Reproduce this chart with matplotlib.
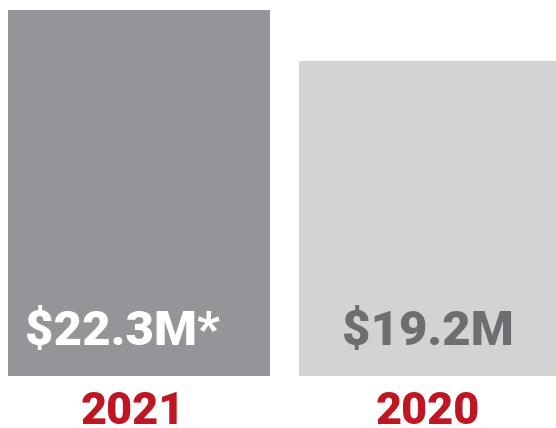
import matplotlib
matplotlib.use("Agg")
import matplotlib.pyplot as plt

years = ["2021", "2020"]
values = [22.3, 19.2]
value_labels = ["$22.3M*", "$19.2M"]
bar_colors = ["#939598", "#d1d3d4"]
label_colors = ["#ffffff", "#6d6e71"]
year_color = "#be1622"

W, H = 556, 428
fig = plt.figure(figsize=(W / 100, H / 100), dpi=100)
base_px = 375.5
top_px = 10
ax = fig.add_axes([0, (H - base_px) / H, 1, (base_px - top_px) / H])
ax.set_ylim(0, max(values))
unit = 291
c0 = 139
ax.set_xlim(-c0 / unit, (W - c0) / unit)
ax.axis("off")

x = list(range(len(years)))
ax.bar(x, values, width=262 / unit, color=bar_colors, clip_on=True)

val_dx = [-17, -2]
year_dx = [-6, -2]
for i in x:
    ax.annotate(value_labels[i], xy=(i, 0), xytext=(val_dx[i], 30.5),
                textcoords="offset pixels", ha="center", va="baseline",
                fontsize=35.4, fontweight="black", family="Roboto",
                color=label_colors[i], annotation_clip=False)
    ax.annotate(years[i], xy=(i, 0), xytext=(year_dx[i], -49),
                textcoords="offset pixels", ha="center", va="baseline",
                fontsize=32.4, fontweight="black", family="Roboto",
                color=year_color, annotation_clip=False)

fig.savefig("out.png", dpi=100)
